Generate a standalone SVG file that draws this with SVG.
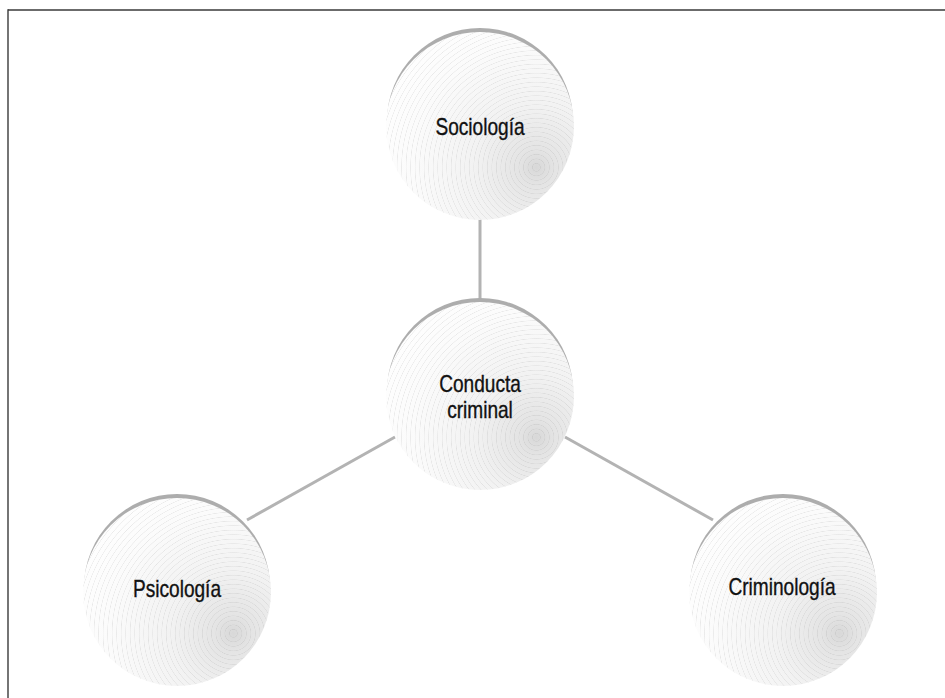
<svg xmlns="http://www.w3.org/2000/svg" width="945" height="698" viewBox="0 0 945 698">
<style>
.frame{stroke:#3a3a3a;stroke-width:1.4;fill:none}
.conn{stroke:#b3b3b3;stroke-width:3;fill:none;stroke-linecap:butt}
.rim{fill:#adadad}
.body{fill:url(#shade)}
.rings{fill:url(#rings)}
.lbl{font-family:"Liberation Sans",Arial,sans-serif;font-size:23px;fill:#111;stroke:#111;stroke-width:0.35;text-anchor:middle}
</style>
<defs>
<radialGradient id="shade" cx="0.8" cy="0.72" fx="0.8" fy="0.72" r="0.95">
<stop offset="0" stop-color="#d8d8d8"/>
<stop offset="0.1" stop-color="#e4e4e4"/>
<stop offset="0.35" stop-color="#f2f2f2"/>
<stop offset="0.7" stop-color="#fbfbfb"/>
<stop offset="1" stop-color="#ffffff"/>
</radialGradient>
<radialGradient id="rings" cx="0.8" cy="0.72" fx="0.8" fy="0.72" r="0.024" spreadMethod="repeat">
<stop offset="0" stop-color="#888" stop-opacity="0"/>
<stop offset="0.75" stop-color="#888" stop-opacity="0"/>
<stop offset="0.88" stop-color="#888" stop-opacity="0.17"/>
<stop offset="1" stop-color="#888" stop-opacity="0"/>
</radialGradient>
</defs>
<g id="frame">
<line class="frame" x1="8" y1="10" x2="945" y2="10"/>
<line class="frame" x1="8" y1="9.3" x2="8" y2="698"/>
</g>
<g id="connectors">
<line class="conn" x1="480" y1="215" x2="480" y2="305"/>
<line class="conn" x1="247" y1="520" x2="395" y2="437"/>
<line class="conn" x1="565" y1="437" x2="713" y2="520"/>
</g>
<g id="sociologia">
<circle class="rim" cx="480" cy="121" r="93"/>
<circle class="body" cx="480" cy="126" r="94"/>
<circle class="rings" cx="480" cy="126" r="94"/>
<text class="lbl" transform="translate(480,135) scale(0.83,1)">Sociología</text>
</g>
<g id="conducta">
<circle class="rim" cx="480" cy="391" r="93"/>
<circle class="body" cx="480" cy="396" r="94"/>
<circle class="rings" cx="480" cy="396" r="94"/>
<text class="lbl" transform="translate(480,392) scale(0.83,1)">Conducta</text>
<text class="lbl" transform="translate(480,418) scale(0.83,1)">criminal</text>
</g>
<g id="psicologia">
<circle class="rim" cx="177" cy="587" r="93"/>
<circle class="body" cx="177" cy="592" r="94"/>
<circle class="rings" cx="177" cy="592" r="94"/>
<text class="lbl" transform="translate(177,597) scale(0.83,1)">Psicología</text>
</g>
<g id="criminologia">
<circle class="rim" cx="783" cy="587" r="93"/>
<circle class="body" cx="783" cy="592" r="94"/>
<circle class="rings" cx="783" cy="592" r="94"/>
<text class="lbl" transform="translate(782,595) scale(0.83,1)">Criminología</text>
</g>
</svg>
